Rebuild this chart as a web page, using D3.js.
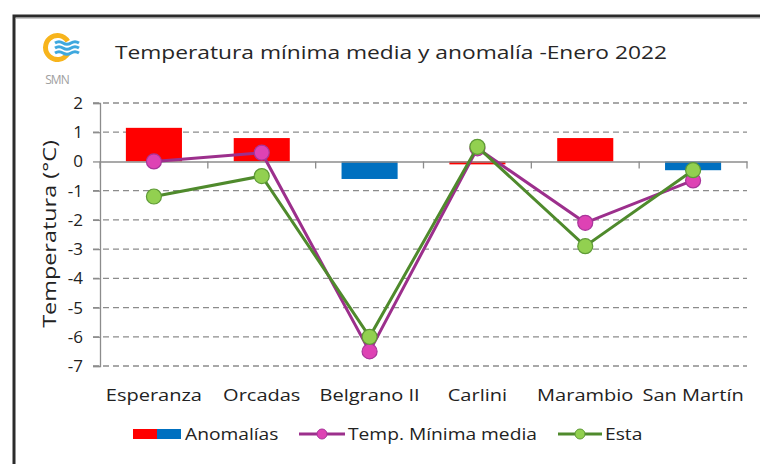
<!DOCTYPE html>
<meta charset="utf-8">
<style>
body { margin: 0; background: #fff; }
text { font-family: "Open Sans", sans-serif; fill: #222; }
.grid line { stroke: #8c8c8c; stroke-width: 1.3px; stroke-dasharray: 6,4; }
</style>
<svg width="760" height="464"></svg>
<script src="https://d3js.org/d3.v7.min.js"></script>
<script>
// station names and values
var stations = ["Esperanza", "Orcadas", "Belgrano II", "Carlini", "Marambio", "San Martín"];
var anomalias = [1.15, 0.8, -0.6, -0.1, 0.8, -0.3];
var tempMinMedia = [0.0, 0.3, -6.5, 0.45, -2.1, -0.65];
var esta = [-1.2, -0.5, -6.0, 0.5, -2.9, -0.3];
var yTicks = [2, 1, 0, -1, -2, -3, -4, -5, -6, -7];

var svg = d3.select("svg");

// the original font is a wide geometric one, stretch ours a bit
function widen(sel, k) {
  sel.each(function() {
    var w = this.getComputedTextLength();
    d3.select(this).attr("textLength", w * k).attr("lengthAdjust", "spacingAndGlyphs");
  });
}

// outer frame
svg.append("rect").attr("x", 14).attr("y", 16).attr("width", 800).attr("height", 500)
    .attr("fill", "none").attr("stroke", "#2b2b2b").attr("stroke-width", 3);
svg.append("line").attr("x1", 16).attr("x2", 760).attr("y1", 18.5).attr("y2", 18.5)
    .attr("stroke", "#c8c8c8").attr("stroke-width", 1);

// SMN logo
var logo = svg.append("g");
logo.append("path")
    .attr("d", d3.arc().innerRadius(9.5).outerRadius(14.5)
        .startAngle(Math.PI / 2 + 0.55).endAngle(Math.PI / 2 - 0.55 + 2 * Math.PI)())
    .attr("transform", "translate(57.5,47.5)")
    .attr("fill", "#f7b41c");
[43, 48, 53].forEach(function(yy) {
  logo.append("path")
      .attr("d", "M55," + yy + " q4,-2.5 8,0 t8,0 t8,0")
      .attr("fill", "none").attr("stroke", "#3ea8de").attr("stroke-width", 3);
});
logo.append("text").attr("x", 57).attr("y", 84).attr("text-anchor", "middle")
    .style("font-size", "12px").style("fill", "#a0a0a0").style("letter-spacing", "-1px").text("SMN");

// title
svg.append("text").attr("x", 115).attr("y", 59)
    .attr("textLength", 552).attr("lengthAdjust", "spacingAndGlyphs")
    .style("font-size", "19px").style("fill", "#262626")
    .text("Temperatura mínima media y anomalía -Enero 2022");

var x = d3.scaleBand().domain(stations).range([100, 747]).padding(0);
var y = d3.scaleLinear().domain([-7, 2]).range([366, 103]);
var barW = x.bandwidth() * 0.52;

// grid
svg.append("g").attr("class", "grid")
  .selectAll("line").data(yTicks.filter(function(d) { return d !== 0; }))
  .enter().append("line")
    .attr("x1", 93).attr("x2", 747)
    .attr("y1", function(d) { return y(d); }).attr("y2", function(d) { return y(d); });

// y axis
var yAxis = svg.append("g").attr("transform", "translate(100,0)")
    .call(d3.axisLeft(y).tickValues(yTicks).tickSize(7).tickPadding(10)
      .tickFormat(function(d) { return String(d); }));
yAxis.select(".domain").attr("stroke", "#8c8c8c").attr("stroke-width", 1.3);
yAxis.selectAll(".tick line").attr("stroke", "#8c8c8c").attr("stroke-width", 1.3);
yAxis.selectAll(".tick text").style("font-size", "17px").style("font-family", "Open Sans, sans-serif").attr("fill", "#222");

var yTitle = svg.append("text")
    .attr("transform", "translate(56,234) rotate(-90)")
    .attr("text-anchor", "middle")
    .style("font-size", "18px")
    .text("Temperatura (°C)");
widen(yTitle, 1.3);

// bars
svg.append("g").selectAll("rect").data(anomalias).enter().append("rect")
    .attr("x", function(d, i) { return x(stations[i]) + (x.bandwidth() - barW) / 2; })
    .attr("y", function(d) { return y(Math.max(0, d)); })
    .attr("width", barW)
    .attr("height", function(d) { return Math.abs(y(d) - y(0)); })
    .attr("fill", function(d) { return d < -0.15 ? "#0070c0" : "#ff0000"; });

// zero line with category ticks
var xAxis = svg.append("g").attr("transform", "translate(0," + y(0) + ")")
    .call(d3.axisBottom(x).tickSize(0).tickFormat(""));
xAxis.select(".domain").attr("stroke", "#8c8c8c").attr("stroke-width", 1.5);
xAxis.append("g").selectAll("line").data(d3.range(stations.length + 1)).enter().append("line")
    .attr("x1", function(i) { return 100 + i * x.step(); })
    .attr("x2", function(i) { return 100 + i * x.step(); })
    .attr("y1", 0).attr("y2", 7)
    .attr("stroke", "#8c8c8c").attr("stroke-width", 1.3);

// category labels
var xl = svg.append("g").selectAll("text").data(stations).enter().append("text")
    .attr("x", function(d) { return x(d) + x.bandwidth() / 2; })
    .attr("y", 401)
    .attr("text-anchor", "middle")
    .style("font-size", "16px")
    .text(function(d) { return d; });
widen(xl, 1.25);

var line = d3.line()
    .x(function(d, i) { return x(stations[i]) + x.bandwidth() / 2; })
    .y(function(d) { return y(d); });

function series(data, stroke, fill, edge) {
  var g = svg.append("g");
  g.append("path").attr("d", line(data)).attr("fill", "none")
      .attr("stroke", stroke).attr("stroke-width", 3);
  g.selectAll("circle").data(data).enter().append("circle")
      .attr("cx", function(d, i) { return x(stations[i]) + x.bandwidth() / 2; })
      .attr("cy", function(d) { return y(d); })
      .attr("r", 7.5)
      .attr("fill", fill).attr("stroke", edge).attr("stroke-width", 1.2);
}
series(tempMinMedia, "#9c2f8c", "#de42b4", "#a8359a");
series(esta, "#4f8a2c", "#92d050", "#5e9a36");

// legend
var lg = svg.append("g");
lg.append("rect").attr("x", 133).attr("y", 429).attr("width", 24).attr("height", 10).attr("fill", "#ff0000");
lg.append("rect").attr("x", 157).attr("y", 429).attr("width", 24).attr("height", 10).attr("fill", "#0070c0");
lg.append("text").attr("x", 185).attr("y", 440).style("font-size", "16px").text("Anomalías");
lg.append("line").attr("x1", 299).attr("x2", 345).attr("y1", 434).attr("y2", 434).attr("stroke", "#9c2f8c").attr("stroke-width", 3);
lg.append("circle").attr("cx", 322).attr("cy", 434).attr("r", 5).attr("fill", "#de42b4").attr("stroke", "#a8359a");
lg.append("text").attr("x", 348).attr("y", 440).style("font-size", "16px").text("Temp. Mínima media");
lg.append("line").attr("x1", 558).attr("x2", 602).attr("y1", 434).attr("y2", 434).attr("stroke", "#4f8a2c").attr("stroke-width", 3);
lg.append("circle").attr("cx", 580).attr("cy", 434).attr("r", 5).attr("fill", "#92d050").attr("stroke", "#5e9a36");
lg.append("text").attr("x", 605).attr("y", 440).style("font-size", "16px").text("Esta");
widen(lg.selectAll("text"), 1.2);
</script>
